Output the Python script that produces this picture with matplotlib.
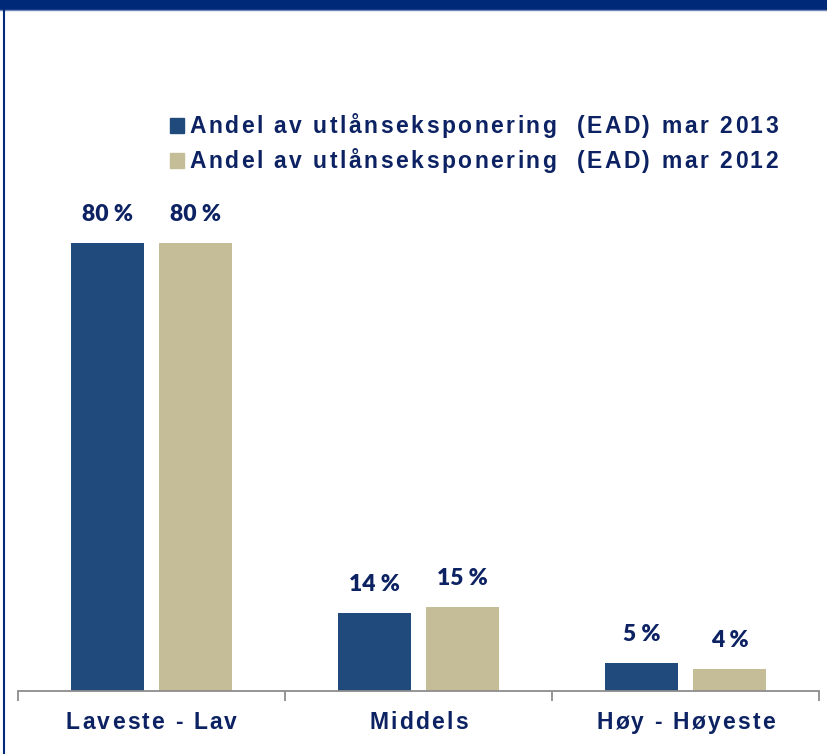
import numpy as np
import matplotlib
matplotlib.use("Agg")
import matplotlib.pyplot as plt
from matplotlib.patches import Rectangle
from matplotlib.lines import Line2D
from matplotlib.font_manager import FontProperties

categories = ["Laveste - Lav", "Middels", "Høy - Høyeste"]
ead_2013 = [80, 14, 5]
ead_2012 = [80, 15, 4]
series_names = ["Andel av utlånseksponering  (EAD) mar 2013",
                "Andel av utlånseksponering  (EAD) mar 2012"]

navy = "#214A7C"
tan = "#C4BD97"
text_col = "#0C2263"
band = "#002A78"

W, H = 827, 754
fig = plt.figure(figsize=(W / 100, H / 100), dpi=100)
renderer = fig.canvas.get_renderer()


def text_width(s, prop):
    # width of s in pixels, keeping trailing spaces by measuring against a bar
    w, _, _ = renderer.get_text_width_height_descent(s + "|", prop, ismath=False)
    wb, _, _ = renderer.get_text_width_height_descent("|", prop, ismath=False)
    return w - wb


def spaced_text(x_px, y_px, s, prop, track, ha="left"):
    # draw s one glyph at a time with extra letter spacing (pixels from top-left)
    total = text_width(s, prop) + track * (len(s) - 1)
    start = x_px - total / 2 if ha == "center" else x_px
    for i, ch in enumerate(s):
        if ch == " ":
            continue
        xi = start + text_width(s[:i], prop) + track * i
        fig.text(xi / W, 1 - y_px / H, ch, fontproperties=prop, color=text_col,
                 ha="left", va="baseline")


# frame: dark band on top, thin line on the left
fig.patches.append(Rectangle((0, 1 - 9 / H), 1, 9 / H, transform=fig.transFigure,
                             color=band, zorder=0))
fig.lines.append(Line2D([0, 1], [1 - 10 / H, 1 - 10 / H], transform=fig.transFigure,
                        color="#6F86B8", lw=1))
fig.lines.append(Line2D([4 / W, 4 / W], [0, 1 - 9 / H], transform=fig.transFigure,
                        color=band, lw=1.5))

# axes: x from 18 to 819 px, baseline at 691 px, 80 % reaching 243 px
x0, x1 = 18, 819
y_base = 691
px_per = (691 - 243) / 80
ymax = 100
ax = fig.add_axes([x0 / W, (H - y_base) / H, (x1 - x0) / W, ymax * px_per / H])
ax.set_xlim(0, 3)
ax.set_ylim(0, ymax)

x = np.arange(len(categories)) + 0.5
bw = 0.272
off = 0.165
b1 = ax.bar(x - off, ead_2013, bw, color=navy, zorder=2)
b2 = ax.bar(x + off, ead_2012, bw, color=tan, zorder=2)

for bars, vals in ((b1, ead_2013), (b2, ead_2012)):
    for r, v in zip(bars, vals):
        ax.text(r.get_x() + r.get_width() / 2, v + 3.9, f"{v} %",
                ha="center", va="baseline", fontsize=16.5, fontweight="heavy",
                family="Lato", color=text_col)

for s in ("top", "right", "left"):
    ax.spines[s].set_visible(False)
ax.spines["bottom"].set_color("#8C8C8C")
ax.spines["bottom"].set_linewidth(1.3)
ax.set_yticks([])
ax.set_xticks([0, 1, 2, 3])
ax.set_xticklabels([])
ax.tick_params(axis="x", length=7, width=1.3, color="#8C8C8C", direction="out")

label_font = FontProperties(family="Liberation Sans", weight="bold", size=16.5)
for xi, c in zip(x, categories):
    xp = x0 + xi / 3 * (x1 - x0)
    spaced_text(xp, 729, c, label_font, 2.2, ha="center")

# legend drawn by hand: two rows with square keys
legend_font = FontProperties(family="Liberation Sans", weight="bold", size=16.5)
for i, (name, col) in enumerate(zip(series_names, (navy, tan))):
    base = 133 + 35 * i
    fig.patches.append(Rectangle((170 / W, 1 - (base) / H), 14 / W, 15 / H,
                                 transform=fig.transFigure, color=col))
    spaced_text(189, base, name, legend_font, 2.5)

fig.savefig("out.png", dpi=100)
